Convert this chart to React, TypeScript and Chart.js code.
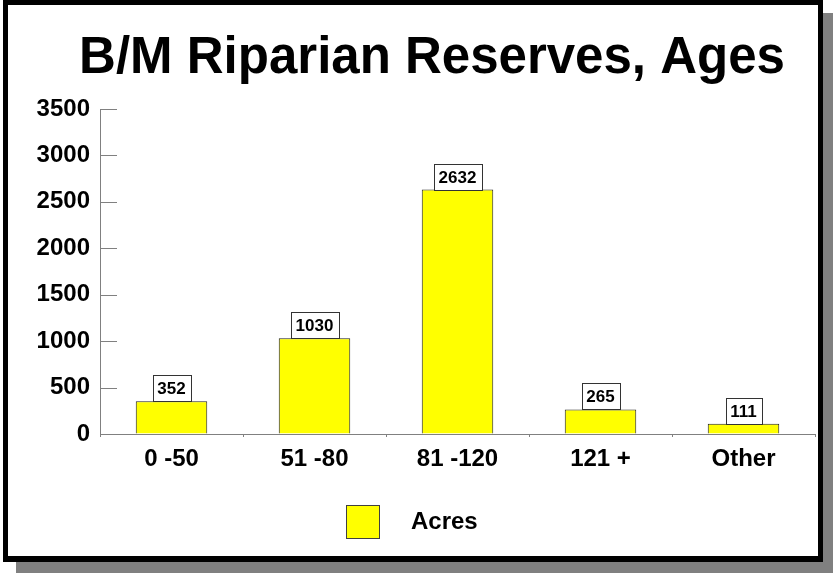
import React, { useEffect, useRef } from 'react';
import { Chart, registerables } from 'chart.js';

Chart.register(...registerables);

const titleText = 'B/M Riparian Reserves, Ages';
const categories = ['0 -50', '51 -80', '81 -120', '121 +', 'Other'];
const acres = [352, 1030, 2632, 265, 111];
const seriesLabel = 'Acres';
const yMin = 0;
const yMax = 3500;
const yStep = 500;

const FONT = "'Liberation Sans', Arial, Helvetica, sans-serif";
const AXIS_GRAY = '#808080';
const BAR_YELLOW = '#ffff00';

const titleDraw = {
  id: 'titleDraw',
  afterDraw(chart: any) {
    const ctx = chart.ctx;
    ctx.save();
    ctx.font = `bold 51px ${FONT}`;
    ctx.fillStyle = '#000000';
    ctx.textAlign = 'center';
    ctx.textBaseline = 'middle';
    ctx.fillText(titleText, 432, 59);
    ctx.restore();
  },
};

const valueBoxes = {
  id: 'valueBoxes',
  afterDatasetsDraw(chart: any) {
    const ctx = chart.ctx;
    const meta = chart.getDatasetMeta(0);
    const data = chart.data.datasets[0].data;
    ctx.save();
    ctx.font = `bold 17px ${FONT}`;
    meta.data.forEach((bar: any, i: number) => {
      const text = String(data[i]);
      const w = Math.round(ctx.measureText(text).width) + 10;
      const h = 26;
      const x = Math.round(bar.x - w / 2) + 0.5;
      const y = Math.round(bar.y - h) + 0.5;
      ctx.fillStyle = '#ffffff';
      ctx.fillRect(x, y, w, h);
      ctx.strokeStyle = '#333333';
      ctx.lineWidth = 1;
      ctx.strokeRect(x, y, w, h);
      ctx.fillStyle = '#000000';
      ctx.textAlign = 'center';
      ctx.textBaseline = 'middle';
      ctx.fillText(text, bar.x, y + h / 2 + 1);
    });
    ctx.restore();
  },
};

const innerTicks = {
  id: 'innerTicks',
  afterDraw(chart: any) {
    const ctx = chart.ctx;
    const ys = chart.scales.y;
    const left = chart.chartArea.left;
    ctx.save();
    ctx.strokeStyle = AXIS_GRAY;
    ctx.lineWidth = 1;
    ys.ticks.forEach((t: any) => {
      const py = Math.round(ys.getPixelForValue(t.value)) + 0.5;
      ctx.beginPath();
      ctx.moveTo(left, py);
      ctx.lineTo(left + 17, py);
      ctx.stroke();
    });
    ctx.restore();
  },
};

const customLegend = {
  id: 'customLegend',
  afterDraw(chart: any) {
    const ctx = chart.ctx;
    const ds = chart.data.datasets[0];
    ctx.save();
    ctx.font = `bold 24px ${FONT}`;
    const tw = ctx.measureText(ds.label).width;
    const box = 33;
    const gap = 32;
    const total = box + gap + tw;
    const cx = 412;
    const cy = 521;
    const sx = Math.round(cx - total / 2);
    const by = Math.round(cy - box / 2);
    ctx.fillStyle = ds.backgroundColor;
    ctx.fillRect(sx + 0.5, by + 0.5, box, box);
    ctx.strokeStyle = '#404040';
    ctx.lineWidth = 1;
    ctx.strokeRect(sx + 0.5, by + 0.5, box, box);
    ctx.fillStyle = '#000000';
    ctx.textAlign = 'left';
    ctx.textBaseline = 'middle';
    ctx.fillText(ds.label, sx + box + gap, cy + 1);
    ctx.restore();
  },
};

export default function App() {
  const canvasRef = useRef<HTMLCanvasElement | null>(null);

  useEffect(() => {
    if (!canvasRef.current) return;
    const chart = new Chart(canvasRef.current, {
      type: 'bar',
      data: {
        labels: categories,
        datasets: [
          {
            label: seriesLabel,
            data: acres,
            backgroundColor: BAR_YELLOW,
            borderColor: '#202020',
            borderWidth: 1,
            categoryPercentage: 1,
            barPercentage: 0.5,
          },
        ],
      },
      options: {
        responsive: false,
        animation: false,
        layout: { padding: { left: 0, right: 18, top: 109, bottom: 79 } },
        plugins: {
          legend: { display: false },
          tooltip: { enabled: false },
          title: { display: false },
        },
        scales: {
          x: {
            afterFit: (s: any) => {
              s.height = 60;
            },
            grid: {
              display: true,
              drawOnChartArea: false,
              drawTicks: true,
              tickLength: 3,
              color: AXIS_GRAY,
            },
            border: { display: true, color: AXIS_GRAY, width: 1 },
            ticks: {
              color: '#000000',
              padding: 8,
              font: { family: FONT, size: 24, weight: 'bold' },
            },
          },
          y: {
            min: yMin,
            max: yMax,
            afterFit: (s: any) => {
              s.width = 100;
            },
            grid: {
              display: true,
              drawOnChartArea: false,
              drawTicks: false,
              color: AXIS_GRAY,
            },
            border: { display: true, color: AXIS_GRAY, width: 1 },
            ticks: {
              stepSize: yStep,
              color: '#000000',
              padding: 10,
              font: { family: FONT, size: 24, weight: 'bold' },
              callback: (v: any) => String(v),
            },
          },
        },
      },
      plugins: [valueBoxes, innerTicks, customLegend, titleDraw],
    } as any);
    return () => chart.destroy();
  }, []);

  return (
    <div style={{ position: 'fixed', left: 0, top: 0, width: 833, height: 573, background: '#ffffff', overflow: 'hidden' }}>
      <div style={{ position: 'absolute', left: 16, top: 13, width: 817, height: 560, background: '#808080' }} />
      <div
        style={{
          position: 'absolute',
          left: 3,
          top: 0,
          width: 820,
          height: 562,
          background: '#ffffff',
          border: '5px solid #000000',
          borderBottomWidth: 6,
          boxSizing: 'border-box',
        }}
      />
      <canvas
        ref={canvasRef}
        width={833}
        height={573}
        style={{ position: 'absolute', left: 0, top: 0, width: 833, height: 573 }}
      />
    </div>
  );
}
